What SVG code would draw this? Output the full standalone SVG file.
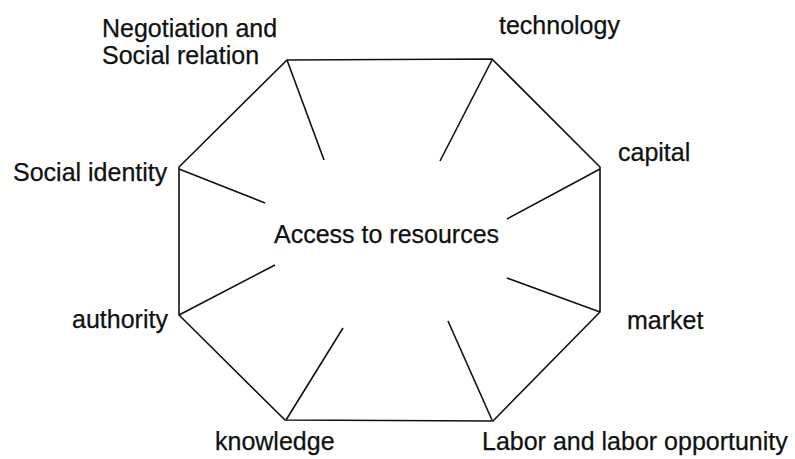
<svg xmlns="http://www.w3.org/2000/svg" width="795" height="459" viewBox="0 0 795 459">
<style>
  .edge { fill: none; stroke: #111; stroke-width: 1.6; stroke-linejoin: miter; }
  .lbl { font-family: "Liberation Sans", Arial, sans-serif; font-size: 25px; fill: #111; stroke: #111; stroke-width: 0.25; }
</style>
<rect width="795" height="459" fill="#fff"/>
<g id="octagon">
  <polygon class="edge" points="287,60 492,59 600,167 600,312 493,421 285,420 179,315 179,167"/>
</g>
<g id="connectors">
  <line class="edge" x1="287" y1="60" x2="324" y2="160"/>
  <line class="edge" x1="492" y1="60" x2="440" y2="161"/>
  <line class="edge" x1="600" y1="169" x2="507" y2="219"/>
  <line class="edge" x1="600" y1="312" x2="507" y2="278"/>
  <line class="edge" x1="492" y1="420" x2="448" y2="321"/>
  <line class="edge" x1="286" y1="420" x2="343" y2="328"/>
  <line class="edge" x1="179" y1="315" x2="275" y2="265"/>
  <line class="edge" x1="179" y1="169" x2="265" y2="203"/>
</g>
<g id="center"><text class="lbl" x="274" y="243">Access to resources</text></g>
<g id="negotiation"><text class="lbl" x="102" y="37">Negotiation and</text><text class="lbl" x="102" y="64">Social relation</text></g>
<g id="technology"><text class="lbl" x="499" y="34">technology</text></g>
<g id="capital"><text class="lbl" x="618" y="161">capital</text></g>
<g id="market"><text class="lbl" x="627" y="329">market</text></g>
<g id="labor"><text class="lbl" x="482" y="450">Labor and labor opportunity</text></g>
<g id="knowledge"><text class="lbl" x="215" y="450">knowledge</text></g>
<g id="authority"><text class="lbl" x="72" y="328">authority</text></g>
<g id="social-identity"><text class="lbl" x="13" y="181">Social identity</text></g>
</svg>
